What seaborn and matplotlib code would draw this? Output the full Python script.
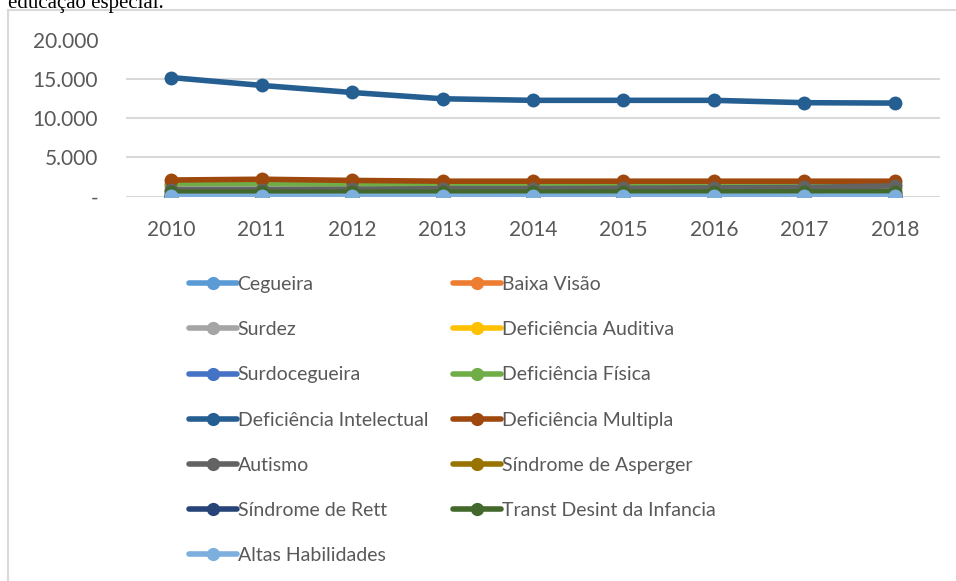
import pandas as pd
import matplotlib
matplotlib.use("Agg")
import matplotlib.pyplot as plt
import matplotlib.ticker as mticker
from matplotlib.patches import Rectangle
import seaborn as sns

# data
anos = [2010, 2011, 2012, 2013, 2014, 2015, 2016, 2017, 2018]
categorias = [
    "Cegueira", "Baixa Visão", "Surdez", "Deficiência Auditiva",
    "Surdocegueira", "Deficiência Física", "Deficiência Intelectual",
    "Deficiência Multipla", "Autismo", "Síndrome de Asperger",
    "Síndrome de Rett", "Transt Desint da Infancia", "Altas Habilidades",
]
cegueira = [60, 60, 55, 55, 50, 50, 50, 50, 50]
baixa_visao = [250, 260, 250, 240, 240, 230, 230, 230, 220]
surdez = [1400, 1400, 1350, 1200, 1150, 1100, 1050, 1000, 950]
def_auditiva = [300, 300, 300, 300, 320, 330, 340, 350, 400]
surdocegueira = [5, 5, 5, 5, 5, 5, 5, 5, 5]
def_fisica = [1650, 1650, 1600, 1550, 1550, 1550, 1550, 1550, 1550]
def_intelectual = [15150, 14150, 13250, 12450, 12250, 12250, 12250, 11950, 11900]
def_multipla = [2100, 2200, 2050, 1950, 1950, 1950, 1950, 1950, 1950]
autismo = [850, 850, 900, 1000, 1000, 1050, 1100, 1150, 1350]
asperger = [50, 50, 60, 80, 100, 150, 200, 250, 350]
rett = [5, 5, 5, 5, 5, 5, 5, 5, 5]
transt = [550, 550, 550, 560, 560, 570, 580, 590, 600]
altas_hab = [20, 20, 25, 25, 30, 30, 30, 35, 40]

series = [cegueira, baixa_visao, surdez, def_auditiva, surdocegueira, def_fisica,
          def_intelectual, def_multipla, autismo, asperger, rett, transt, altas_hab]
cores = ["#5B9BD5", "#ED7D31", "#A5A5A5", "#FFC000", "#4472C4", "#70AD47",
         "#255E91", "#9E480E", "#636363", "#997300", "#264478", "#43682B", "#7CAFDD"]

df = pd.concat([pd.DataFrame({"ano": anos, "valor": v, "tipo": c})
                for c, v in zip(categorias, series)], ignore_index=True)

sns.set_style("white")
plt.rcParams["font.family"] = ["Lato", "DejaVu Sans"]

fig = plt.figure(figsize=(9.56, 5.81), dpi=100)
W, H = 956, 581
ax = fig.add_axes([126 / W, 1 - 196.5 / H, (940 - 126) / W, (196.5 - 39.5) / H])

sns.lineplot(data=df, x="ano", y="valor", hue="tipo", hue_order=categorias,
             palette=dict(zip(categorias, cores)), marker="o", markersize=10,
             markeredgewidth=0, linewidth=4, ax=ax, legend=True)

ax.set_xlim(2009.5, 2018.5)
ax.set_ylim(0, 20000)
ax.set_xticks(anos)
ax.set_yticks([0, 5000, 10000, 15000, 20000])
ax.yaxis.set_major_formatter(mticker.FuncFormatter(
    lambda v, p: "-" if v == 0 else f"{int(v):,}".replace(",", ".")))
ax.grid(axis="y", color="#D9D9D9", linewidth=1.5)
ax.set_axisbelow(True)
for s in ax.spines.values():
    s.set_visible(False)
ax.tick_params(axis="both", length=0, labelsize=15, colors="#595959")
ax.tick_params(axis="y", pad=20)
ax.tick_params(axis="x", pad=17)
ax.set_xlabel("")
ax.set_ylabel("")

# legend, row-wise order in two columns
h, l = ax.get_legend_handles_labels()
ordem = list(range(0, 13, 2)) + list(range(1, 13, 2))
leg = ax.legend([h[i] for i in ordem], [l[i] for i in ordem], ncol=2,
                loc="upper left", bbox_to_anchor=(189 / W, 1 - 276 / H),
                bbox_transform=fig.transFigure, frameon=False, fontsize=14,
                labelcolor="#595959", handlelength=2.45, handletextpad=0.05,
                labelspacing=1.45, columnspacing=1.3, borderaxespad=0,
                borderpad=0)
for ln in leg.get_lines():
    ln.set_linewidth(4)
    ln.set_markersize(9.5)

# chart frame, cropped at right and bottom
fig.patches.append(Rectangle((8 / W, -0.1), 1.2, 1 - 10 / H + 0.1,
                             transform=fig.transFigure, fill=False,
                             edgecolor="#D9D9D9", linewidth=1.5))

fig.text(8 / W, 1 - 8 / H, "educação especial.", family="Liberation Serif",
         fontsize=15, va="baseline", ha="left", color="black")

fig.savefig("out.png", dpi=100)
